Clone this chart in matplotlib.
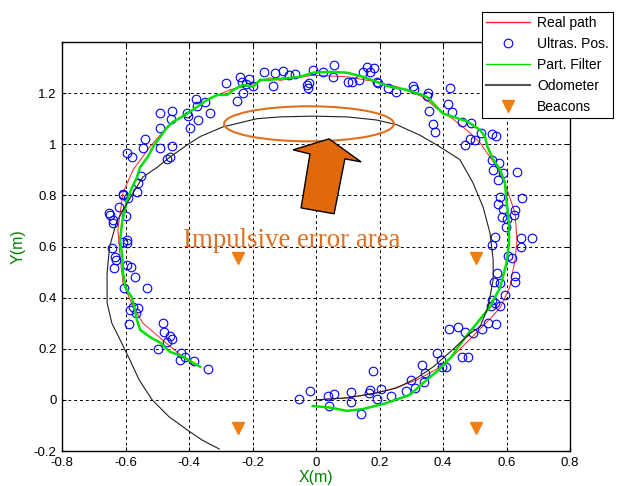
import numpy as np
import matplotlib
matplotlib.use("Agg")
import matplotlib.pyplot as plt
from matplotlib.patches import Ellipse, Polygon

plt.rcParams['font.family'] = ['Liberation Sans', 'DejaVu Sans']

# ---------------- data ----------------
real_x = [0.0, 0.10, 0.16, 0.233, 0.318, 0.38, 0.43, 0.495, 0.55, 0.58, 0.61, 0.627, 0.633,
          0.627, 0.60, 0.57, 0.517, 0.485, 0.43, 0.38, 0.337, 0.255, 0.19, 0.098, -0.01,
          -0.113, -0.145, -0.208, -0.271, -0.343, -0.397, -0.46, -0.523, -0.576, -0.608,
          -0.624, -0.617, -0.608, -0.576, -0.545, -0.47, -0.42, -0.387]
real_y = [0.0, 0.008, 0.02, 0.04, 0.078, 0.12, 0.17, 0.25, 0.32, 0.36, 0.44, 0.548, 0.626,
          0.73, 0.83, 0.91, 1.005, 1.045, 1.10, 1.14, 1.185, 1.225, 1.244, 1.264, 1.27,
          1.25, 1.26, 1.232, 1.213, 1.174, 1.127, 1.08, 0.99, 0.90, 0.81,
          0.665, 0.56, 0.457, 0.364, 0.30, 0.22, 0.17, 0.137]

pf_x = [-0.01, 0.044, 0.097, 0.148, 0.22, 0.296, 0.337, 0.38, 0.428, 0.444, 0.476, 0.507,
        0.548, 0.58, 0.60, 0.608, 0.608, 0.60, 0.595, 0.58, 0.558, 0.54, 0.532, 0.517,
        0.475, 0.40, 0.38, 0.35, 0.287, 0.233, 0.19, 0.148, 0.098, 0.044, -0.01, -0.05,
        -0.113, -0.145, -0.176, -0.198, -0.23, -0.26, -0.28, -0.31, -0.343, -0.365, -0.397,
        -0.428, -0.45, -0.47, -0.49, -0.513, -0.53, -0.554, -0.564, -0.58, -0.595, -0.61,
        -0.617, -0.61, -0.608, -0.60, -0.58, -0.57, -0.564, -0.554, -0.523, -0.49, -0.46,
        -0.42, -0.387, -0.365]
pf_y = [-0.024, -0.03, -0.043, -0.036, -0.013, 0.02, 0.066, 0.11, 0.17, 0.20, 0.254, 0.30,
        0.364, 0.44, 0.535, 0.614, 0.69, 0.78, 0.85, 0.90, 0.94, 0.99, 1.03, 1.056,
        1.09, 1.12, 1.146, 1.185, 1.213, 1.225, 1.244, 1.264, 1.28, 1.283, 1.28, 1.264,
        1.256, 1.252, 1.252, 1.225, 1.232, 1.213, 1.193, 1.193, 1.174, 1.154, 1.127,
        1.103, 1.088, 1.064, 1.03, 0.99, 0.95, 0.91, 0.87, 0.83, 0.78, 0.70,
        0.626, 0.56, 0.497, 0.44, 0.40, 0.35, 0.313, 0.274, 0.246, 0.223, 0.188,
        0.17, 0.145, 0.13]

odo_x = [0.0, 0.098, 0.19, 0.255, 0.318, 0.37, 0.43, 0.485, 0.517, 0.542, 0.558, 0.558,
         0.548, 0.526, 0.494, 0.453, 0.39, 0.328, 0.255, 0.19, 0.098, -0.01, -0.113,
         -0.186, -0.293, -0.365, -0.406, -0.46, -0.50, -0.545, -0.576, -0.627, -0.65,
         -0.658, -0.658, -0.643, -0.617, -0.586, -0.557, -0.516, -0.463, -0.406, -0.359,
         -0.305]
odo_y = [0.0, 0.008, 0.027, 0.047, 0.086, 0.13, 0.196, 0.26, 0.286, 0.364, 0.47, 0.548,
         0.653, 0.755, 0.85, 0.94, 0.99, 1.035, 1.076, 1.095, 1.107, 1.11, 1.107,
         1.10, 1.068, 1.03, 0.997, 0.95, 0.91, 0.872, 0.81, 0.70, 0.60,
         0.497, 0.38, 0.30, 0.235, 0.156, 0.078, 0.0, -0.066, -0.117, -0.157,
         -0.192]

us_x = [-0.053, -0.019, 0.037, 0.041, 0.057, 0.109, 0.109, 0.142, 0.170, 0.167, 0.180,
        0.191, 0.204, 0.235, 0.283, 0.298, 0.312, 0.335, 0.34, 0.344, 0.38, 0.394, 0.396,
        0.408, 0.42, 0.446, 0.47, 0.494, 0.459, 0.48, 0.522, 0.543, 0.567, 0.55, 0.58,
        0.564,
        0.357, 0.415, 0.427, 0.369, 0.375, 0.461, 0.487, 0.519, 0.485, 0.469, 0.553, 0.567,
        0.50, 0.553, 0.577, 0.558, 0.588, 0.574, 0.632, 0.58, 0.648, 0.574, 0.59, 0.627,
        0.585, 0.603, 0.625, 0.598, 0.564, 0.553, 0.645, 0.68, 0.645, 0.606, 0.617, 0.571,
        0.627, 0.627, 0.561, 0.58, 0.595, 0.553,
        -0.105, -0.084, -0.066, -0.008, -0.027, -0.024, -0.021, 0.023, 0.058, 0.055, 0.102,
        0.112, 0.136, 0.149, 0.162, 0.17, 0.184, 0.191, 0.196, 0.228, 0.251, 0.305, 0.31,
        0.354, 0.349, 0.422,
        -0.609, -0.596, -0.58, -0.565, -0.56, -0.552, -0.539, -0.544, -0.491, -0.491,
        -0.491, -0.454, -0.458, -0.454, -0.47, -0.46, -0.407, -0.402, -0.397, -0.378,
        -0.371, -0.374, -0.35, -0.334, -0.283, -0.248, -0.239, -0.234, -0.229, -0.22,
        -0.21, -0.20, -0.164, -0.134, -0.129,
        -0.607, -0.591, -0.62, -0.651, -0.649, -0.64, -0.598, -0.638, -0.607, -0.596,
        -0.596, -0.643, -0.633, -0.63, -0.596, -0.583, -0.636, -0.57, -0.604, -0.533,
        -0.575, -0.586, -0.56, -0.588, -0.567, -0.483, -0.479, -0.46, -0.468, -0.454,
        -0.497, -0.426, -0.428, -0.412, -0.384, -0.339]
us_y = [0.003, 0.036, 0.016, -0.023, 0.022, 0.030, -0.01, -0.055, 0.039, 0.027, 0.113,
        0.003, 0.042, 0.016, 0.036, 0.078, 0.046, 0.137, 0.068, 0.107, 0.185, 0.156, 0.13,
        0.128, 0.278, 0.287, 0.266, 0.263, 0.169, 0.169, 0.277, 0.30, 0.295, 0.368, 0.368,
        0.378,
        1.13, 1.158, 1.128, 1.08, 1.046, 1.086, 1.082, 1.043, 1.02, 0.998, 1.04, 1.033,
        1.017, 0.939, 0.926, 0.90, 0.887, 0.861, 0.893, 0.793, 0.789, 0.767, 0.746, 0.743,
        0.715, 0.709, 0.724, 0.676, 0.639, 0.606, 0.633, 0.633, 0.60, 0.561, 0.554, 0.496,
        0.485, 0.463, 0.463, 0.456, 0.41, 0.391,
        1.288, 1.271, 1.275, 1.291, 1.232, 1.22, 1.239, 1.281, 1.311, 1.265, 1.245,
        1.245, 1.252, 1.284, 1.302, 1.284, 1.298, 1.245, 1.239, 1.22, 1.206, 1.229, 1.216,
        1.202, 1.187, 1.22,
        0.806, 0.965, 0.95, 0.815, 0.848, 0.874, 1.02, 0.985, 1.122, 1.063,
        0.985, 1.132, 1.099, 0.994, 0.942, 0.952, 1.124, 1.111, 1.063, 1.178,
        1.093, 1.148, 1.167, 1.122, 1.239, 1.171, 1.263, 1.245, 1.2, 1.236,
        1.255, 1.229, 1.281, 1.226, 1.278,
        0.802, 0.789, 0.756, 0.73, 0.724, 0.704, 0.72, 0.691, 0.619, 0.626,
        0.613, 0.594, 0.558, 0.548, 0.528, 0.519, 0.515, 0.482, 0.437, 0.437,
        0.365, 0.352, 0.359, 0.297, 0.339, 0.302, 0.267, 0.248, 0.228, 0.237,
        0.198, 0.185, 0.156, 0.169, 0.153, 0.12]

beacon_x = [-0.245, 0.505, -0.245, 0.505]
beacon_y = [0.555, 0.555, -0.11, -0.11]

x_ticks = [-0.8, -0.6, -0.4, -0.2, 0, 0.2, 0.4, 0.6, 0.8]
x_tick_labels = ['-0.8', '-0.6', '-0.4', '-0.2', '0', '0.2', '0.4', '0.6', '0.8']
y_ticks = [-0.2, 0, 0.2, 0.4, 0.6, 0.8, 1.0, 1.2]
y_tick_labels = ['-0.2', '0', '0.2', '0.4', '0.6', '0.8', '1', '1.2']

# annotation geometry (data units)
ellipse_center = (-0.022, 1.08)
ellipse_w, ellipse_h = 0.535, 0.137
arrow_poly_x = [0.041, 0.142, 0.091, 0.057, -0.047, -0.019, -0.072]
arrow_poly_y = [1.021, 0.931, 0.943, 0.728, 0.751, 0.962, 0.978]
note_text = 'Impulsive error area'

# ---------------- figure ----------------
fig = plt.figure(figsize=(6.21, 4.86), dpi=100)
ax = fig.add_axes([62/621, 1-451/486, (570-62)/621, (451-42)/486])

orange = '#F07E10'
ax.plot(real_x, real_y, color='#FF2020', lw=0.7, label='Real path', zorder=3)
ax.plot(us_x, us_y, 'o', mfc='none', mec='#0000FF', ms=6.2, mew=0.8,
        label='Ultras. Pos.', zorder=4, linestyle='none')
ax.plot(pf_x, pf_y, color='#00E000', lw=1.8, label='Part. Filter', zorder=5)
ax.plot(odo_x, odo_y, color='#202020', lw=0.8, label='Odometer', zorder=5)
ax.plot(beacon_x, beacon_y, 'v', color=orange, ms=8, mec=orange,
        label='Beacons', zorder=5, linestyle='none')

ax.add_patch(Ellipse(ellipse_center, ellipse_w, ellipse_h, fill=False,
                     edgecolor='#E07020', lw=1.5, zorder=6))
ax.add_patch(Polygon(np.column_stack([arrow_poly_x, arrow_poly_y]), closed=True,
                     facecolor='#E2680C', edgecolor='black', lw=1.0, zorder=7))
ax.text(-0.419, 0.622, note_text, color='#E07020', fontsize=19.4,
        family=['Liberation Serif', 'DejaVu Serif'], va='center', ha='left', zorder=7)

ax.set_xlim(-0.8, 0.8)
ax.set_ylim(-0.2, 1.4)
ax.set_xticks(x_ticks)
ax.set_xticklabels(x_tick_labels)
ax.set_yticks(y_ticks)
ax.set_yticklabels(y_tick_labels)
ax.tick_params(direction='in', length=3, labelsize=9.5, colors='black', pad=4)
ax.tick_params(top=True, right=True)
ax.grid(True, color='black', linestyle=(0, (3, 3)), lw=0.7)
for s in ax.spines.values():
    s.set_linewidth(1.0)
    s.set_color('black')

ax.set_xlabel('X(m)', color='#008000', fontsize=11.5, labelpad=1)
ax.set_ylabel('Y(m)', color='#008000', fontsize=11.5, labelpad=6)

leg = ax.legend(loc='upper right', bbox_to_anchor=(613/621, 1-12/486),
                bbox_transform=fig.transFigure, fontsize=10, frameon=True,
                fancybox=False, edgecolor='black', framealpha=1,
                handlelength=3.2, borderpad=0.3, labelspacing=0.5,
                handletextpad=0.5, borderaxespad=0)
leg.get_frame().set_linewidth(0.8)
leg.set_zorder(10)
leg_lines = leg.get_lines()
leg_lines[0].set_linewidth(1.0)
leg_lines[2].set_linewidth(1.0)
leg_lines[3].set_linewidth(1.5)
leg_lines[3].set_color('#555555')

fig.savefig('out.png', dpi=100)
